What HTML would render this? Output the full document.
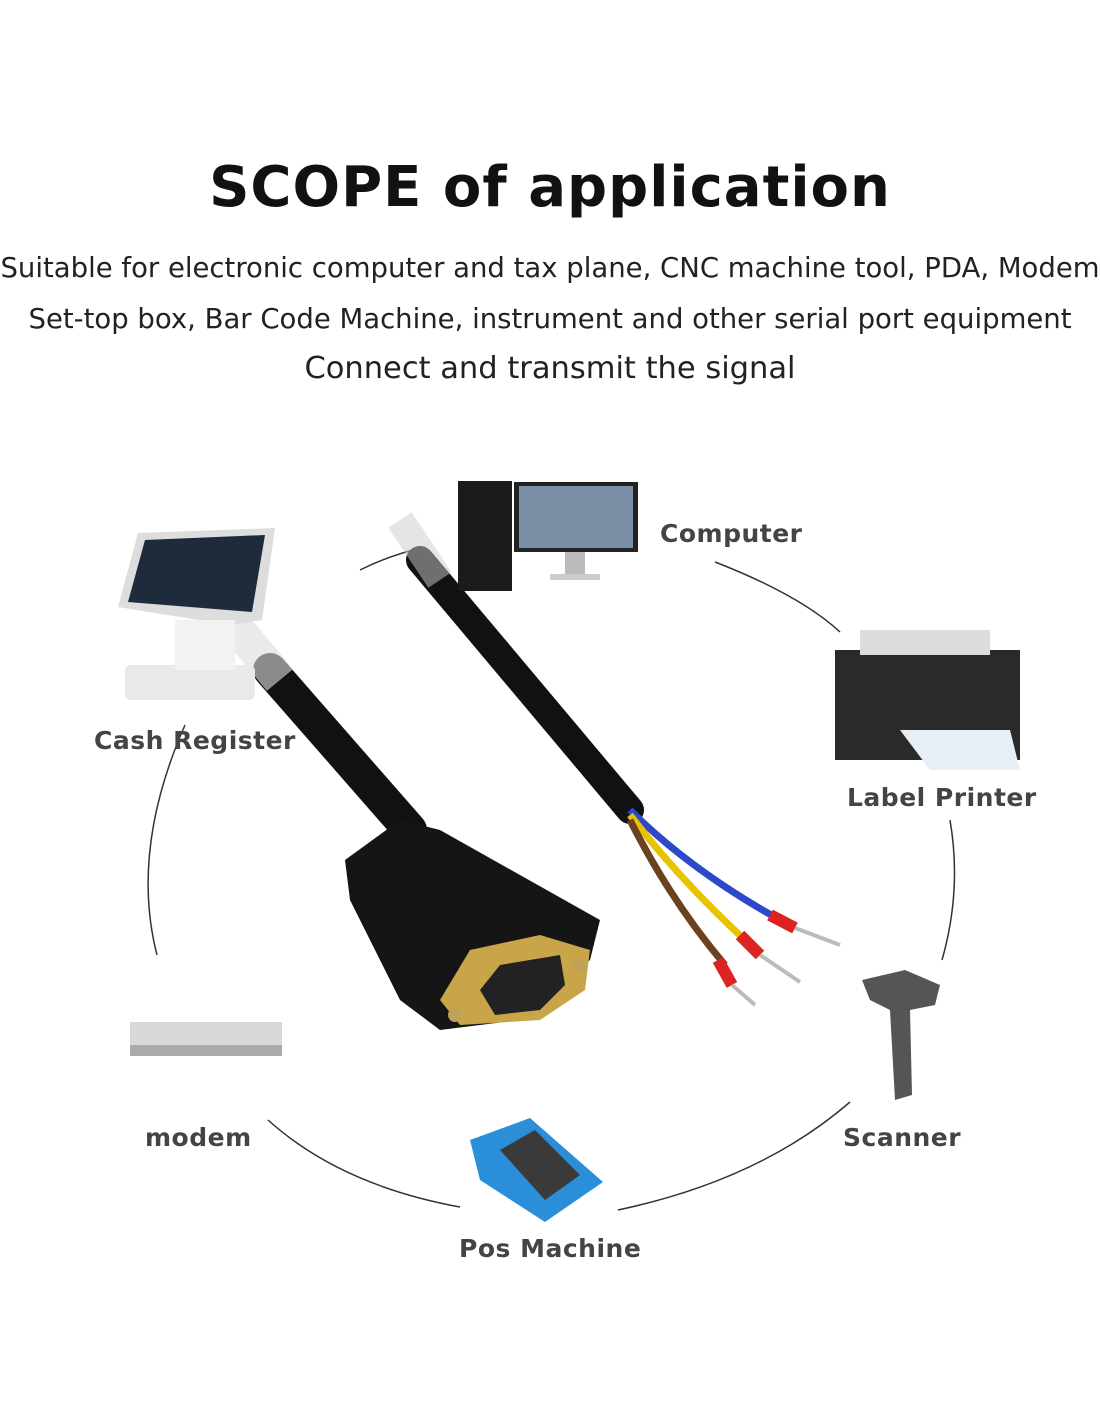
<!DOCTYPE html>
<html><head><meta charset="utf-8"><style>
html,body{margin:0;padding:0;background:#fff}
body{width:1100px;height:1422px;position:relative;overflow:hidden;font-family:"Liberation Sans","DejaVu Sans",sans-serif}
.t{position:absolute;white-space:nowrap}
.title{left:0;width:1100px;text-align:center;top:155px;font-size:56px;font-weight:bold;color:#111;font-family:"DejaVu Sans",sans-serif;letter-spacing:1px}
.sub{left:0;width:1100px;text-align:center;font-size:27.5px;color:#222;font-family:"DejaVu Sans",sans-serif}
.lb{font-size:25px;font-weight:bold;color:#444;font-family:"DejaVu Sans",sans-serif;letter-spacing:0.5px}
</style></head><body>
<svg width="1100" height="1422" style="position:absolute;left:0;top:0">
<g fill="none" stroke="#333" stroke-width="1.5">
<path d="M360 570 Q390 555 425 547"/>
<path d="M715 562 Q800 595 840 632"/>
<path d="M950 820 Q962 890 942 960"/>
<path d="M850 1102 Q760 1180 618 1210"/>
<path d="M460 1207 Q340 1185 268 1120"/>
<path d="M157 955 Q130 850 185 725"/>
</g>
<path d="M270 670 L410 830" stroke="#111" stroke-width="34" stroke-linecap="round"/>
<path d="M230 620 L280 680" stroke="#ddd" stroke-width="34" opacity="0.6"/>
<g>
<polygon points="345,860 400,820 440,830 600,920 590,960 520,1020 440,1030 400,1000 350,900" fill="#151515"/>
<polygon points="440,1000 470,950 540,935 590,950 585,990 540,1020 460,1025" fill="#c9a54a"/>
<polygon points="480,990 500,965 560,955 565,985 540,1010 495,1015" fill="#222"/>
<circle cx="455" cy="1015" r="7" fill="#bfa15a"/><circle cx="580" cy="965" r="7" fill="#bfa15a"/>
</g>
<path d="M420 560 L630 810" stroke="#111" stroke-width="28" stroke-linecap="round"/>
<path d="M400 520 L440 580" stroke="#ccc" stroke-width="28" opacity="0.5"/>
<path d="M630 810 Q690 870 780 920" stroke="#2d49c9" stroke-width="7" fill="none"/>
<path d="M630 815 Q680 880 745 940" stroke="#e8c400" stroke-width="7" fill="none"/>
<path d="M630 820 Q670 900 725 965" stroke="#6b4220" stroke-width="7" fill="none"/>
<path d="M770 915 L795 928" stroke="#d22" stroke-width="12"/><path d="M795 928 L840 945" stroke="#bbb" stroke-width="4"/>
<path d="M740 935 L760 955" stroke="#d22" stroke-width="12"/><path d="M760 955 L800 982" stroke="#bbb" stroke-width="4"/>
<path d="M718 960 L732 985" stroke="#d22" stroke-width="12"/><path d="M732 985 L755 1005" stroke="#bbb" stroke-width="4"/>
<rect x="458" y="481" width="54" height="110" fill="#1b1b1b"/>
<rect x="514" y="482" width="124" height="70" fill="#222"/><rect x="519" y="486" width="114" height="62" fill="#7a8fa5"/>
<rect x="565" y="552" width="20" height="22" fill="#bbb"/><rect x="550" y="574" width="50" height="6" fill="#ccc"/>
<polygon points="118,607 138,533 275,528 262,620 230,625" fill="#ddd"/>
<polygon points="128,602 145,540 265,535 252,612" fill="#1d2b3a"/>
<rect x="125" y="665" width="130" height="35" rx="6" fill="#e9e9e9"/>
<rect x="175" y="620" width="60" height="50" fill="#f2f2f2"/>
<rect x="835" y="650" width="185" height="110" fill="#2a2a2a"/>
<rect x="860" y="630" width="130" height="25" fill="#ddd"/>
<polygon points="900,730 1010,730 1020,770 930,770" fill="#e8eef5"/>
<rect x="130" y="1022" width="152" height="34" fill="#d8d8d8"/><rect x="130" y="1045" width="152" height="11" fill="#aaa"/>
<polygon points="862,980 905,970 940,985 935,1005 910,1010 912,1095 895,1100 890,1010 870,1000" fill="#555"/>
<polygon points="470,1140 530,1118 603,1182 545,1222 480,1180" fill="#2a8fd8"/>
<polygon points="500,1150 535,1130 580,1175 545,1200" fill="#3a3a3a"/>
</svg>
<div class="t title">SCOPE of application</div>
<div class="t sub" style="top:252px">Suitable for electronic computer and tax plane, CNC machine tool, PDA, Modem</div>
<div class="t sub" style="top:303px">Set-top box, Bar Code Machine, instrument and other serial port equipment</div>
<div class="t sub" style="top:351px;font-size:30.5px">Connect and transmit the signal</div>
<div class="t lb" style="left:660px;top:519px">Computer</div>
<div class="t lb" style="left:94px;top:726px">Cash Register</div>
<div class="t lb" style="left:847px;top:783px">Label Printer</div>
<div class="t lb" style="left:145px;top:1123px">modem</div>
<div class="t lb" style="left:843px;top:1123px">Scanner</div>
<div class="t lb" style="left:459px;top:1234px">Pos Machine</div>
</body></html>
